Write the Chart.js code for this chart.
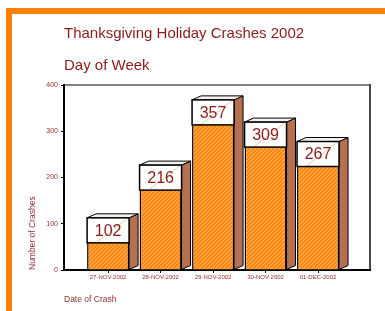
<!DOCTYPE html>
<html lang="en">
<head>
    <meta charset="UTF-8">
    <title>Thanksgiving Holiday Crashes 2002</title>
    <script src="https://cdn.jsdelivr.net/npm/chart.js"></script>
    <style>
        body { margin: 0; background: #fff; }
    </style>
</head>
<body>
    <canvas id="crashChart" width="385" height="311"></canvas>
    <script>
        const days = ['27-NOV-2002', '28-NOV-2002', '29-NOV-2002', '30-NOV-2002', '01-DEC-2002'];
        const crashes = [102, 216, 357, 309, 267];
        const yTicks = [0, 100, 200, 300, 400];

        const darkRed = '#8B1A1A';
        const labelRed = '#93302F';

        Chart.defaults.font.family = '"Liberation Sans", Arial, sans-serif';

        const ctx = document.getElementById('crashChart').getContext('2d');

        // orange hatch for the bar fronts
        function makeHatch() {
            const c = document.createElement('canvas');
            c.width = 4; c.height = 4;
            const g = c.getContext('2d');
            g.fillStyle = '#FF8A12';
            g.fillRect(0, 0, 4, 4);
            g.strokeStyle = '#FFB566';
            g.lineWidth = 1;
            g.beginPath();
            g.moveTo(0, 4); g.lineTo(4, 0);
            g.moveTo(-1, 1); g.lineTo(1, -1);
            g.moveTo(3, 5); g.lineTo(5, 3);
            g.stroke();
            return ctx.createPattern(c, 'repeat');
        }

        const boxes3d = {
            id: 'boxes3d',
            beforeDraw(chart) {
                const c = chart.ctx;
                c.save();
                c.fillStyle = '#fff';
                c.fillRect(0, 0, chart.width, chart.height);
                c.fillStyle = '#FF8000';
                c.fillRect(6, 8, chart.width - 6, 6);
                c.fillRect(6, 8, 6, chart.height - 8);
                // top and right edges of the plot frame
                const a = chart.chartArea;
                c.lineWidth = 2;
                c.strokeStyle = '#808080';
                c.beginPath();
                c.moveTo(a.left, a.top);
                c.lineTo(a.right, a.top);
                c.stroke();
                c.strokeStyle = '#4a4a4a';
                c.beginPath();
                c.moveTo(a.right, a.top - 1);
                c.lineTo(a.right, a.bottom);
                c.stroke();
                c.restore();
            },
            afterDatasetsDraw(chart) {
                const c = chart.ctx;
                const dx = 9, dy = 4, boxH = 25, lift = 5;
                c.save();
                c.lineWidth = 1;
                c.strokeStyle = '#000';
                chart.getDatasetMeta(0).data.forEach((bar, i) => {
                    const l = bar.x - bar.width / 2, r = bar.x + bar.width / 2;
                    const t = bar.y - lift, b = bar.base;
                    // side face
                    c.beginPath();
                    c.moveTo(r, t);
                    c.lineTo(r + dx, t - dy);
                    c.lineTo(r + dx, b - dy);
                    c.lineTo(r, b);
                    c.closePath();
                    c.fillStyle = '#B5714F';
                    c.fill();
                    c.stroke();
                    // top face
                    c.beginPath();
                    c.moveTo(l, t);
                    c.lineTo(l + dx, t - dy);
                    c.lineTo(r + dx, t - dy);
                    c.lineTo(r, t);
                    c.closePath();
                    c.fillStyle = '#f2f2f2';
                    c.fill();
                    c.stroke();
                    // value box
                    c.fillStyle = '#fff';
                    c.fillRect(l, t, r - l, boxH);
                    c.strokeStyle = '#f5c9a0';
                    c.beginPath();
                    c.moveTo(r - 2, t + 1);
                    c.lineTo(l + 10, t + boxH - 1);
                    c.stroke();
                    c.strokeStyle = '#000';
                    c.lineWidth = 1.5;
                    c.strokeRect(l, t, r - l, boxH);
                    c.lineWidth = 1;
                    c.fillStyle = darkRed;
                    c.font = '16px "Liberation Sans", Arial, sans-serif';
                    c.textAlign = 'center';
                    c.textBaseline = 'middle';
                    c.fillText(String(crashes[i]), bar.x, t + boxH / 2 + 1);
                });
                c.restore();
            }
        };

        new Chart(ctx, {
            type: 'bar',
            data: {
                datasets: [{
                    label: 'Number of Crashes',
                    data: crashes.map((v, i) => ({ x: i + 1, y: v })),
                    backgroundColor: makeHatch(),
                    borderColor: '#000',
                    borderWidth: 1.5,
                    categoryPercentage: 1,
                    barPercentage: 0.8
                }]
            },
            options: {
                responsive: false,
                animation: false,
                devicePixelRatio: 1,
                layout: { padding: { top: 0, left: 12, right: 15, bottom: 0 } },
                plugins: {
                    legend: { display: false },
                    tooltip: { enabled: false },
                    title: {
                        display: true,
                        text: 'Thanksgiving Holiday Crashes 2002',
                        align: 'start',
                        fullSize: false,
                        color: darkRed,
                        font: { size: 15, weight: 'normal' },
                        padding: { top: 25, bottom: 0 }
                    },
                    subtitle: {
                        display: true,
                        text: 'Day of Week',
                        align: 'start',
                        fullSize: false,
                        color: darkRed,
                        font: { size: 15, weight: 'normal' },
                        padding: { top: 14, bottom: 10 }
                    }
                },
                scales: {
                    x: {
                        type: 'linear',
                        offset: false,
                        min: 0.16,
                        max: 5.99,
                        afterBuildTicks: s => { s.ticks = days.map((d, i) => ({ value: i + 1 })); },
                        afterFit: s => { s.height = 41; },
                        grid: { offset: false, drawOnChartArea: false, tickLength: 3, color: '#000' },
                        border: { color: '#000', width: 2 },
                        ticks: {
                            callback: v => days[v - 1] || '',
                            autoSkip: false,
                            maxRotation: 0,
                            padding: 1,
                            color: labelRed,
                            font: { size: 6 }
                        },
                        title: {
                            display: true,
                            text: 'Date of Crash',
                            align: 'start',
                            color: labelRed,
                            font: { size: 8.5 },
                            padding: { top: 0, bottom: 6 }
                        }
                    },
                    y: {
                        min: 0,
                        max: 400,
                        afterBuildTicks: s => { s.ticks = yTicks.map(v => ({ value: v })); },
                        afterFit: s => { s.width = 52; },
                        grid: { drawOnChartArea: false, tickLength: 3, color: '#000' },
                        border: { color: '#000', width: 2 },
                        ticks: { padding: 3, color: labelRed, font: { size: 7 } },
                        title: {
                            display: true,
                            text: 'Number of Crashes',
                            align: 'start',
                            color: labelRed,
                            font: { size: 8.5 },
                            padding: { top: 16, bottom: 0 }
                        }
                    }
                }
            },
            plugins: [boxes3d]
        });
    </script>
</body>
</html>
